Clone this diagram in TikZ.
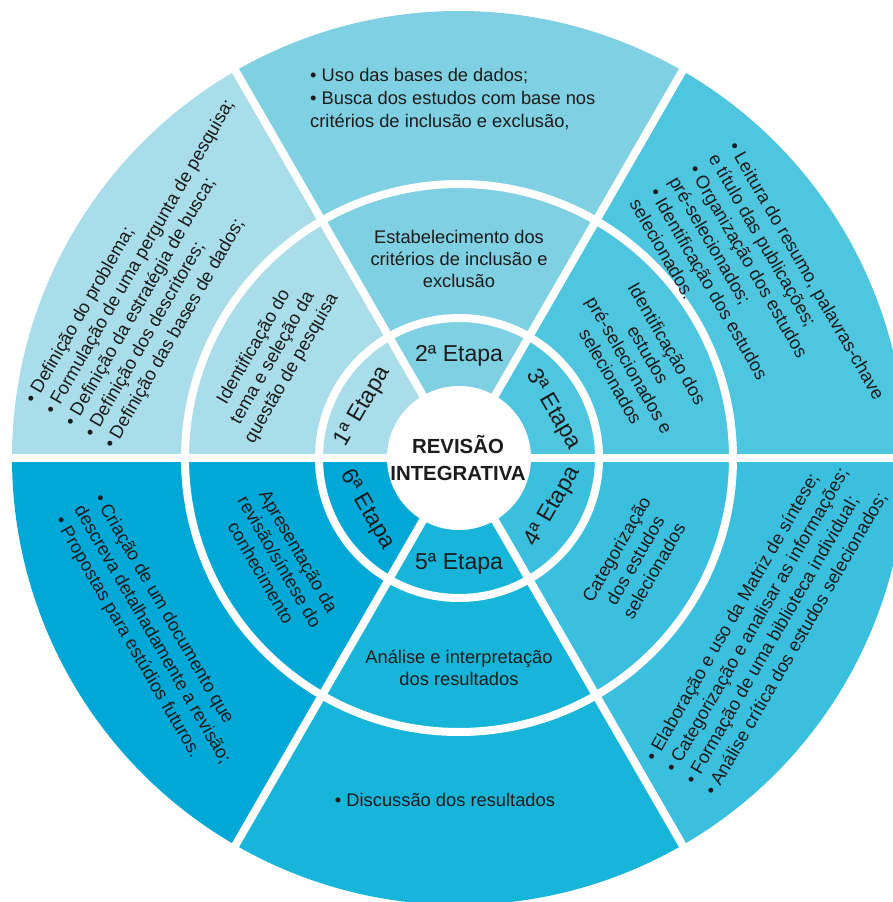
\documentclass[tikz,border=0pt]{standalone}
\usepackage{fontspec}
\setmainfont{Liberation Sans}
\definecolor{cor1}{HTML}{A9DDE9}
\definecolor{cor2}{HTML}{7ED0E2}
\definecolor{cor3}{HTML}{4FC6E0}
\definecolor{cor4}{HTML}{3BBFDF}
\definecolor{cor5}{HTML}{17B5DA}
\definecolor{cor6}{HTML}{00A8D8}
\definecolor{tinta}{HTML}{1C1C1C}
\tikzset{
    %estilos dos textos
    every node/.style={text=tinta, inner sep=0pt},
    etapa/.style={
      font=\fontsize{23}{26}\selectfont},
    passo/.style={
      align=center,
      font=\fontsize{18.3}{21.7}\selectfont},
    lista/.style={
      align=left, anchor=west,
      font=\fontsize{18.3}{22.8}\selectfont},
    nucleo/.style={
      align=center,
      font=\bfseries\fontsize{20.4}{27}\selectfont},
    corte/.style={white, line width=8pt}
}

\begin{document}
\begin{tikzpicture}[x=1pt,y=1pt]
    \clip (-459,-444) rectangle (434,458);
    % setores
    \foreach \a/\c in {120/cor1,60/cor2,0/cor3,-60/cor4,-120/cor5,180/cor6}
        \fill[\c] (0,0) -- (\a:447pt) arc[start angle=\a, delta angle=60, radius=447pt] -- cycle;
    % divisoes brancas
    \foreach \a in {0,60,...,300}
        \draw[corte] (0,0) -- (\a:460pt);
    \draw[corte] (0,0) circle[radius=140pt];
    \draw[corte] (0,0) circle[radius=274pt];
    \fill[white] (0,0) circle[radius=72pt];
    % centro e etapas
    \node (centro) [nucleo] at (-1,0) {REVISÃO\\INTEGRATIVA};
    \node (e1) [etapa, rotate=60] at (-96,51) {1ª Etapa};
    \node (e2) [etapa] at (0,102) {2ª Etapa};
    \node (e3) [etapa, rotate=-60] at (94,48) {3ª Etapa};
    \node (e4) [etapa, rotate=60] at (94,-49) {4ª Etapa};
    \node (e5) [etapa] at (0,-106) {5ª Etapa};
    \node (e6) [etapa, rotate=-60] at (-92,-52) {6ª Etapa};
    % segundo anel
    \node (p1) [passo, rotate=60] at (-186,100)
          {Identificação do\\tema e seleção da\\questão de pesquisa};
    \node (p2) [passo] at (0,199)
          {Estabelecimento dos\\critérios de inclusão e\\exclusão};
    \node (p3) [passo, rotate=-60] at (180,98)
          {Identificação dos\\estudos\\pré-selecionados e\\selecionados};
    \node (p4) [passo, rotate=60] at (176,-102)
          {Categorização\\dos estudos\\selecionados};
    \node (p5) [passo] at (0,-210)
          {Análise e interpretação\\dos resultados};
    \node (p6) [passo, rotate=-60] at (-179,-104)
          {Apresentação da\\revisão/síntese do\\conhecimento};
    % anel externo
    \node (l1) [lista, rotate=60] at (-389,33)
          {• Definição do problema;\\• Formulação de uma pergunta de pesquisa;\\• Definição da estratégia de busca;\\• Definição dos descritores;\\• Definição das bases de dados;};
    \node (l2) [lista] at (-149,359)
          {• Uso das bases de dados;\\• Busca dos estudos com base nos\\critérios de inclusão e exclusão,};
    \node (l3) [lista, rotate=-60] at (225,286)
          {• Leitura do resumo, palavras-chave\\e título das publicações;\\• Organização dos estudos\\pré-selecionados;\\• Identificação dos estudos\\selecionados.};
    \node (l4) [lista, rotate=60] at (221,-319)
          {• Elaboração e uso da Matriz de síntese;\\• Categorização e analisar as informações;\\• Formação de uma biblioteca individual;\\• Análise crítica dos estudos selecionados;};
    \node (l5) [lista, anchor=center] at (-14,-342)
          {• Discussão dos resultados};
    \node (l6) [lista, rotate=-60] at (-381,-49)
          {• Criação de um documento que\\descreva detalhadamente a revisão;\\• Propostas para estúdios futuros.};
\end{tikzpicture}
\end{document}
